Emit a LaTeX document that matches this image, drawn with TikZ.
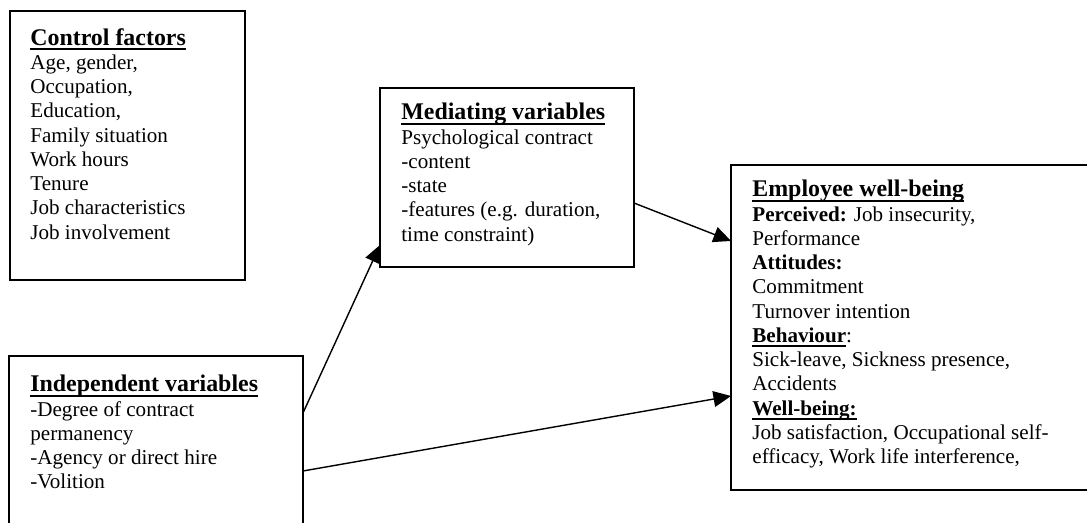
\documentclass[tikz,border=0pt]{standalone}
\usepackage{fontspec}
\setmainfont{Liberation Serif}
\usetikzlibrary{arrows.meta,calc,positioning}
\newcommand{\ulbox}[1]{\setbox0\hbox{#1}\rlap{\rule[-2.6pt]{\wd0}{1pt}}\box0}
\newcommand{\boxtitle}[1]{\ulbox{\fontsize{13.6}{13.8}\selectfont\textbf{#1}}}

\begin{document}
\begin{tikzpicture}[x=0.02cm, y=0.02cm,
boxnode/.style={rectangle, draw, line width=1pt, outer sep=0pt, inner sep=0pt},
textnode/.style={anchor=north west, inner sep=0pt, align=left, font=\fontsize{12}{13.8}\selectfont},
link/.style={line width=0.8pt, arrows={-{Triangle[length=10pt,width=9pt]}}}]
\fill[white] (0,0) rectangle (1087,523);
\clip (0,0) rectangle (1087,523);
% Nodes
\node[boxnode, minimum width=4.70cm, minimum height=5.38cm] (ctl) at (127.5,377.5) {};
\node[boxnode, minimum width=5.88cm, minimum height=3.48cm] (ind) at (156,80) {};
\node[boxnode, minimum width=5.08cm, minimum height=3.58cm] (med) at (507,345.5) {};
\node[boxnode, minimum width=7.22cm, minimum height=6.50cm] (emp) at (911.5,195.5) {};
% Texts
\node[textnode] (ctltext) at ($(ctl.north west)+(20,-17)$) {\boxtitle{Control factors}\\
Age, gender,\\
Occupation,\\
Education,\\
Family situation\\
Work hours\\
Tenure\\
Job characteristics\\
Job involvement};
\node[textnode] (indtext) at ($(ind.north west)+(21,-19)$) {\boxtitle{Independent variables}\\
-Degree of contract\\
permanency\\
-Agency or direct hire\\
-Volition};
\node[textnode] (medtext) at ($(med.north west)+(21,-15)$) {\boxtitle{Mediating variables}\\
Psychological contract\\
-content\\
-state\\
-features (e.g. duration,\\
time constraint)};
\node[textnode] (emptext) at ($(emp.north west)+(21,-15)$) {\boxtitle{Employee well-being}\\
\textbf{Perceived:} Job insecurity,\\
Performance\\
\textbf{Attitudes:}\\
Commitment\\
Turnover intention\\
\ulbox{\textbf{Behaviour}}:\\
Sick-leave, Sickness presence,\\
Accidents\\
\ulbox{\textbf{Well-being:}}\\
Job satisfaction, Occupational self-\\
efficacy, Work life interference,};
% Lines
\draw[link] ($(ind.east)+(0,30)$) -- ($(med.south west)+(0,22)$);
\draw[link] ($(med.east)+(0,-25.5)$) -- ($(emp.west)+(0,86.5)$);
\draw[link] ($(ind.east)+(0,-28)$) -- ($(emp.west)+(0,-68.5)$);
\end{tikzpicture}
\end{document}
